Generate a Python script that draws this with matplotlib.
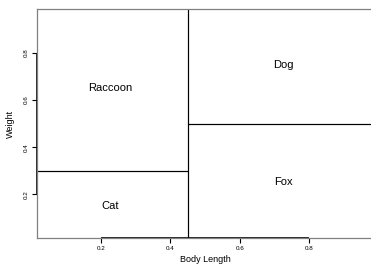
import matplotlib
matplotlib.use("Agg")
import matplotlib.pyplot as plt
from matplotlib.patches import Rectangle

plt.rcParams["font.family"] = ["Liberation Sans", "DejaVu Sans"]

# partition regions: (label, x0, x1, y0, y1)
labels = ["Raccoon", "Cat", "Dog", "Fox"]
x_lo = [0.0, 0.0, 0.45, 0.45]
x_hi = [0.45, 0.45, 1.0, 1.0]
y_lo = [0.3, 0.0, 0.5, 0.0]
y_hi = [1.0, 0.3, 1.0, 0.5]
ticks = [0.2, 0.4, 0.6, 0.8]

fig = plt.figure(figsize=(3.71, 2.66), dpi=100)
ax = fig.add_axes([37 / 371, 28 / 266, 336 / 371, 229 / 266])

for lab, a, b, c, d in zip(labels, x_lo, x_hi, y_lo, y_hi):
    ax.add_patch(Rectangle((a, c), b - a, d - c, fill=False, edgecolor="black", linewidth=0.8))
    ax.text((a + b) / 2, (c + d) / 2, lab, ha="center", va="center", fontsize=8)

ax.set_xlim(0.0145, 0.985)
ax.set_ylim(0.014, 0.987)

for s in ax.spines.values():
    s.set_color("#808080")
    s.set_linewidth(0.9)

# R style axis lines between first and last tick
ax.plot([ticks[0], ticks[-1]], [0.014, 0.014], color="black", lw=1.2, clip_on=False, solid_capstyle="butt")
ax.plot([0.0145, 0.0145], [ticks[0], ticks[-1]], color="black", lw=1.2, clip_on=False, solid_capstyle="butt")

ax.set_xticks(ticks)
ax.set_yticks(ticks)
ax.set_xticklabels([f"{t:.1f}" for t in ticks])
ax.set_yticklabels([f"{t:.1f}" for t in ticks], rotation=90, va="center")
ax.tick_params(axis="both", length=3.5, width=0.8, labelsize=4.5, pad=2.5)

fig.text(205 / 371, 1 - 259 / 266, "Body Length", fontsize=6.5, ha="center", va="center")
fig.text(10 / 371, 1 - 124 / 266, "Weight", fontsize=6.5, ha="center", va="center", rotation=90)

fig.savefig("out.png", dpi=100)
